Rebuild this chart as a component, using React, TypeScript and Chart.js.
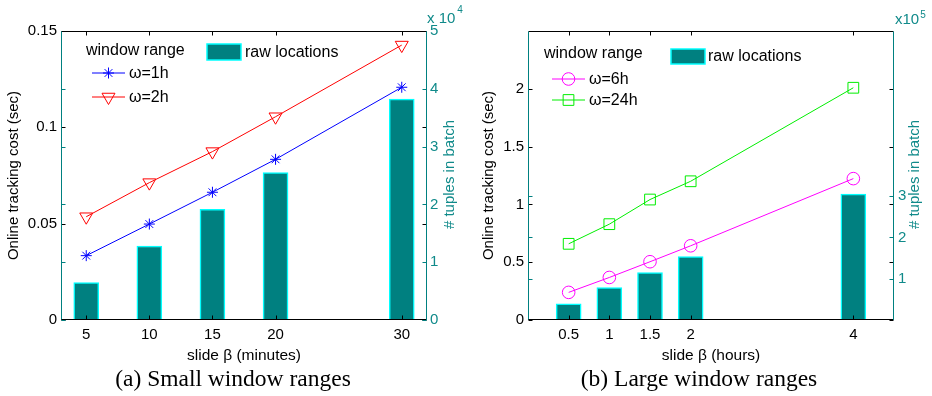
import React, { useEffect, useRef } from 'react';
import { Chart, registerables } from 'chart.js';
import { drawPoint } from 'chart.js/helpers';

Chart.register(...registerables);

// ---------- data: panel (a) ----------
const slideMinutes = [5, 10, 15, 20, 30];
const costW1h = [0.0334, 0.0498, 0.0663, 0.0834, 0.1208];
const costW2h = [0.0536, 0.0713, 0.0874, 0.1055, 0.1427];
const rawLocA = [0.646, 1.28, 1.915, 2.55, 3.82]; // x 10^4
const yTicksA = [0, 0.05, 0.1, 0.15];
const y2TicksA = [0, 1, 2, 3, 4, 5];

// ---------- data: panel (b) ----------
const slideHours = [0.5, 1, 1.5, 2, 4];
const costW6h = [0.239, 0.368, 0.504, 0.642, 1.223];
const costW24h = [0.659, 0.829, 1.042, 1.2, 2.009];
const rawLocB = [0.394, 0.787, 1.149, 1.534, 3.05]; // x 10^5
const yTicksB = [0, 0.5, 1, 1.5, 2];
const y2TicksB = [1, 2, 3];

const SANS = '"Liberation Sans", Arial, Helvetica, sans-serif';
const SERIF = '"Liberation Serif", "Times New Roman", serif';
const TEAL = '#008080';
const TEAL_TXT = '#108a8a';

type LineDef = {
  label: string;
  values: number[];
  color: string;
  pointStyle: string;
  radius: number;
  rotation: number;
};

type Panel = {
  xs: number[];
  lines: LineDef[];
  bars: number[];
  xMin: number;
  xMax: number;
  yMax: number;
  y2Max: number;
  yTicks: number[];
  y2Ticks: number[];
  xTitle: string;
  y2Title: string;
  caption: string;
  expBase: string;
  expSup: string;
  yWidth: number;
  y2Width: number;
  yTitlePad: number;
  y2TitleDx: number;
  y2TickPad: number;
  legend: {
    titleX: number; titleY: number;
    lineX0: number; lineX1: number; markX: number; textX: number; rowY: number[];
    patchX: number; patchY: number; patchW: number; patchH: number; patchTextX: number; patchTextY: number;
  };
  exp: { dx: number; baseY: number; supDx: number; supY: number };
};

const panelA: Panel = {
  xs: slideMinutes,
  lines: [
    { label: 'ω=1h', values: costW1h, color: '#0000ff', pointStyle: 'star', radius: 5.5, rotation: 0 },
    { label: 'ω=2h', values: costW2h, color: '#ff0000', pointStyle: 'triangle', radius: 7.5, rotation: 180 },
  ],
  bars: rawLocA,
  xMin: 3,
  xMax: 32,
  yMax: 0.15,
  y2Max: 5,
  yTicks: yTicksA,
  y2Ticks: y2TicksA,
  xTitle: 'slide β (minutes)',
  y2Title: '# tuples in batch',
  caption: '(a) Small window ranges',
  expBase: 'x 10',
  expSup: '4',
  yWidth: 61,
  y2Width: 39,
  yTitlePad: 5,
  y2TitleDx: 23,
  y2TickPad: 3,
  legend: {
    titleX: 86, titleY: 51,
    lineX0: 92, lineX1: 125, markX: 108.5, textX: 129, rowY: [73, 97],
    patchX: 207, patchY: 44, patchW: 34, patchH: 16, patchTextX: 245, patchTextY: 53,
  },
  exp: { dx: 0, baseY: 23, supDx: 2, supY: 13 },
};

const panelB: Panel = {
  xs: slideHours,
  lines: [
    { label: 'ω=6h', values: costW6h, color: '#ff00ff', pointStyle: 'circle', radius: 6.3, rotation: 0 },
    { label: 'ω=24h', values: costW24h, color: '#00ee00', pointStyle: 'rect', radius: 7.6, rotation: 0 },
  ],
  bars: rawLocB,
  xMin: 0,
  xMax: 4.5,
  yMax: 2.5,
  y2Max: 7,
  yTicks: yTicksB,
  y2Ticks: y2TicksB,
  xTitle: 'slide β (hours)',
  y2Title: '# tuples in batch',
  caption: '(b) Large window ranges',
  expBase: 'x10',
  expSup: '5',
  yWidth: 62,
  y2Width: 38,
  yTitlePad: 14,
  y2TitleDx: 21,
  y2TickPad: 4,
  legend: {
    titleX: 78, titleY: 54,
    lineX0: 86, lineX1: 119, markX: 102.5, textX: 123, rowY: [79, 100],
    patchX: 205, patchY: 49, patchW: 34, patchH: 15, patchTextX: 242, patchTextY: 57,
  },
  exp: { dx: 1, baseY: 24, supDx: 1, supY: 18 },
};

function makeDecor(p: Panel) {
  return {
    id: 'decor',
    afterDraw(chart: any) {
      const ctx = chart.ctx as CanvasRenderingContext2D;
      const ca = chart.chartArea;
      const xs = chart.scales.x;
      const ys = chart.scales.y;
      const y2 = chart.scales.y2;
      const L = Math.round(ca.left) + 0.5;
      const R = Math.round(ca.right) - 0.5;
      const T = Math.round(ca.top) + 0.5;
      const B = Math.round(ca.bottom) - 0.5;
      const TL = 4;
      ctx.save();
      ctx.lineWidth = 1;
      const seg = (x0: number, y0: number, x1: number, y1: number, c: string) => {
        ctx.strokeStyle = c;
        ctx.beginPath();
        ctx.moveTo(x0, y0);
        ctx.lineTo(x1, y1);
        ctx.stroke();
      };
      // ticks
      p.xs.forEach((v) => {
        const px = Math.round(xs.getPixelForValue(v)) + 0.5;
        seg(px, B, px, B - TL, '#000');
        seg(px, T, px, T + TL, '#000');
      });
      p.yTicks.forEach((v) => {
        const py = Math.round(ys.getPixelForValue(v)) + 0.5;
        seg(L, py, L + TL, py, '#000');
        seg(R, py, R - TL, py, '#000');
      });
      p.y2Ticks.forEach((v) => {
        const py = Math.round(y2.getPixelForValue(v)) + 0.5;
        seg(L, py, L + TL, py, TEAL);
        seg(R, py, R - TL, py, TEAL);
      });
      // frame
      seg(L, T, R, T, '#000');
      seg(L - 0.5, B, R + 0.5, B, '#000');
      seg(L, T, L, B, TEAL);
      seg(R, T, R, B + 0.5, TEAL);

      // right axis title (reads bottom-to-top)
      ctx.save();
      ctx.translate(ca.right + p.y2TitleDx, (ca.top + ca.bottom) / 2 - 1);
      ctx.rotate(-Math.PI / 2);
      ctx.fillStyle = TEAL_TXT;
      ctx.font = `15px ${SANS}`;
      ctx.textAlign = 'center';
      ctx.textBaseline = 'middle';
      ctx.fillText(p.y2Title, 0, 0);
      ctx.restore();

      // exponent label
      ctx.fillStyle = TEAL_TXT;
      ctx.textBaseline = 'alphabetic';
      ctx.textAlign = 'left';
      ctx.font = `15px ${SANS}`;
      const ex = ca.right + p.exp.dx;
      ctx.fillText(p.expBase, ex, p.exp.baseY);
      const w = ctx.measureText(p.expBase).width;
      ctx.font = `10px ${SANS}`;
      ctx.fillText(p.expSup, ex + w + p.exp.supDx, p.exp.supY);

      // legend
      const lg = p.legend;
      ctx.fillStyle = '#000';
      ctx.font = `16px ${SANS}`;
      ctx.textBaseline = 'middle';
      ctx.fillText('window range', lg.titleX, lg.titleY);
      p.lines.forEach((ln, i) => {
        const yy = lg.rowY[i];
        seg(lg.lineX0, yy, lg.lineX1, yy, ln.color);
        ctx.strokeStyle = ln.color;
        ctx.fillStyle = 'rgba(0,0,0,0)';
        ctx.lineWidth = 1;
        drawPoint(ctx, { pointStyle: ln.pointStyle as any, radius: ln.radius, rotation: ln.rotation, borderWidth: 1 }, lg.markX, yy);
        ctx.fillStyle = '#000';
        ctx.font = `16px ${SANS}`;
        ctx.fillText(ln.label, lg.textX, yy + 1);
      });
      ctx.fillStyle = TEAL;
      ctx.fillRect(lg.patchX, lg.patchY, lg.patchW, lg.patchH);
      ctx.strokeStyle = '#00ffff';
      ctx.lineWidth = 1.5;
      ctx.strokeRect(lg.patchX, lg.patchY, lg.patchW, lg.patchH);
      ctx.fillStyle = '#000';
      ctx.font = `16px ${SANS}`;
      ctx.fillText('raw locations', lg.patchTextX, lg.patchTextY);
      ctx.restore();
    },
  };
}

function buildConfig(p: Panel): any {
  const tickFont = { family: SANS, size: 15 };
  return {
    type: 'bar',
    data: {
      datasets: [
        ...p.lines.map((ln) => ({
          type: 'line',
          label: ln.label,
          data: p.xs.map((x, i) => ({ x, y: ln.values[i] })),
          yAxisID: 'y',
          xAxisID: 'x',
          borderColor: ln.color,
          borderWidth: 1,
          pointStyle: ln.pointStyle,
          pointRadius: ln.radius,
          pointRotation: ln.rotation,
          pointBorderColor: ln.color,
          pointBackgroundColor: 'rgba(0,0,0,0)',
          pointBorderWidth: 1,
          fill: false,
          tension: 0,
          order: 1,
        })),
        {
          type: 'bar',
          label: 'raw locations',
          data: p.xs.map((x, i) => ({ x, y: p.bars[i] })),
          yAxisID: 'y2',
          xAxisID: 'x',
          backgroundColor: TEAL,
          borderColor: '#00ffff',
          borderWidth: 1.5,
          barThickness: 25,
          order: 2,
        },
      ],
    },
    options: {
      animation: false,
      responsive: false,
      maintainAspectRatio: false,
      layout: { padding: { top: 31, left: 0, right: 0, bottom: 0 } },
      plugins: {
        legend: { display: false },
        tooltip: { enabled: false },
        title: {
          display: true,
          position: 'bottom',
          text: p.caption,
          color: '#000',
          font: { family: SERIF, size: 23.5, weight: 'normal' },
          padding: { top: 0, bottom: 2 },
        },
      },
      scales: {
        x: {
          type: 'linear',
          position: 'bottom',
          min: p.xMin,
          max: p.xMax,
          offset: false,
          grid: { display: false, drawTicks: false },
          border: { display: false },
          afterBuildTicks: (s: any) => {
            s.ticks = p.xs.map((v) => ({ value: v }));
          },
          ticks: {
            autoSkip: false,
            maxRotation: 0,
            padding: 6,
            color: '#000',
            font: tickFont,
            callback: (v: any) => String(v),
          },
          title: {
            display: true,
            text: p.xTitle,
            color: '#000',
            font: { family: SANS, size: 15.5 },
            padding: { top: 0, bottom: 1 },
          },
          afterFit: (s: any) => {
            s.height = 45.8;
          },
        },
        y: {
          type: 'linear',
          position: 'left',
          min: 0,
          max: p.yMax,
          grid: { display: false, drawTicks: false },
          border: { display: false },
          afterBuildTicks: (s: any) => {
            s.ticks = p.yTicks.map((v) => ({ value: v }));
          },
          ticks: {
            padding: 4,
            color: '#000',
            font: tickFont,
            callback: (v: any) => String(v),
          },
          title: {
            display: true,
            text: 'Online tracking cost (sec)',
            color: '#000',
            font: tickFont,
            padding: { top: p.yTitlePad, bottom: 0 },
          },
          afterFit: (s: any) => {
            s.width = p.yWidth;
          },
        },
        y2: {
          type: 'linear',
          position: 'right',
          min: 0,
          max: p.y2Max,
          grid: { display: false, drawTicks: false },
          border: { display: false },
          afterBuildTicks: (s: any) => {
            s.ticks = p.y2Ticks.map((v) => ({ value: v }));
          },
          ticks: {
            padding: p.y2TickPad,
            color: TEAL_TXT,
            font: tickFont,
            callback: (v: any) => String(v),
          },
          title: { display: false },
          afterFit: (s: any) => {
            s.width = p.y2Width;
          },
        },
      },
    },
    plugins: [makeDecor(p)],
  };
}

function PanelChart({ panel }: { panel: Panel }) {
  const ref = useRef<HTMLCanvasElement | null>(null);
  useEffect(() => {
    if (!ref.current) return;
    const chart = new Chart(ref.current, buildConfig(panel));
    return () => chart.destroy();
  }, [panel]);
  return (
    <canvas
      ref={ref}
      width={466}
      height={396}
      style={{ width: 466, height: 396, display: 'block' }}
    />
  );
}

export default function App() {
  return (
    <div
      style={{
        position: 'absolute',
        left: 0,
        top: 0,
        width: 932,
        height: 396,
        display: 'flex',
        background: '#fff',
      }}
    >
      <PanelChart panel={panelA} />
      <PanelChart panel={panelB} />
    </div>
  );
}
